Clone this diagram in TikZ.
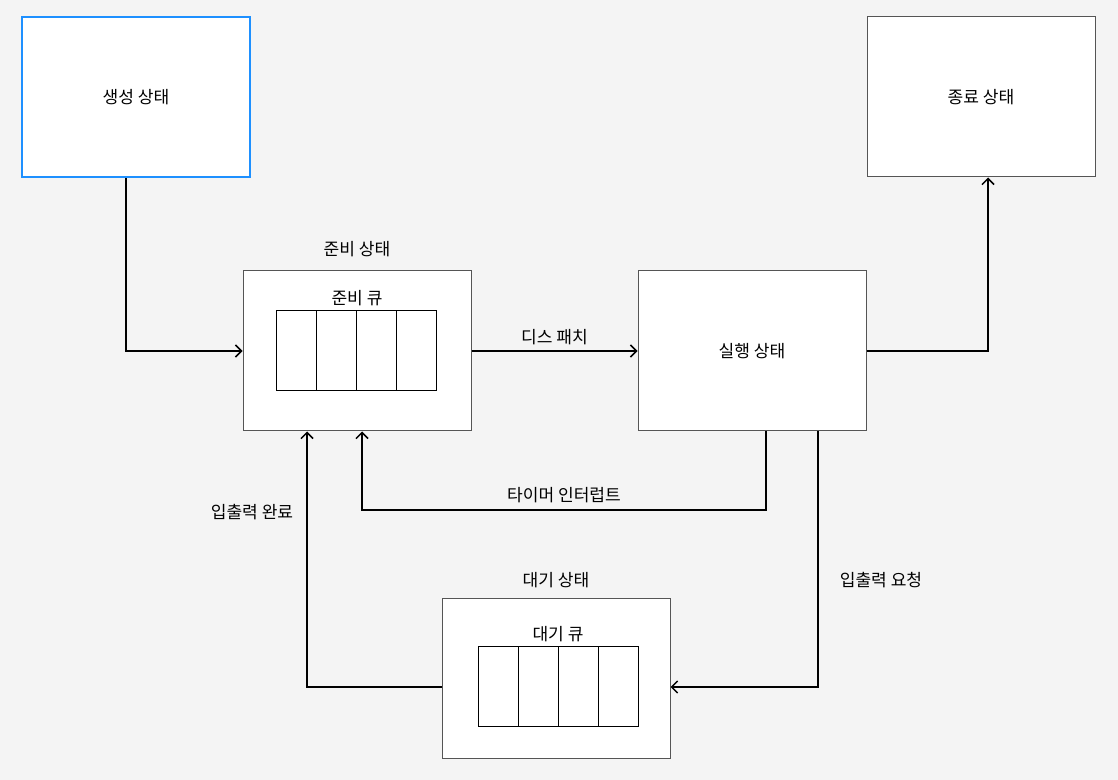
\documentclass[tikz,border=0pt]{standalone}
\usepackage{fontspec}
\newfontfamily\kr{Noto Sans CJK KR}
\usetikzlibrary{arrows.meta}
\definecolor{bg}{HTML}{F4F4F4}
\definecolor{blueb}{HTML}{1E90FF}
\definecolor{grayb}{HTML}{555555}
\tikzset{
  statebox/.style={draw=grayb, fill=white, line width=0.75pt, minimum width=171pt, minimum height=120pt, inner sep=0pt, font=\kr\fontsize{12.8}{15}\selectfont},
  cell/.style={draw=black, fill=white, line width=0.75pt, minimum width=30pt, minimum height=60pt, inner sep=0pt},
  lbl/.style={font=\kr\fontsize{12.8}{15}\selectfont, inner sep=1pt},
  conn/.style={draw=black, line width=1.1pt, -{Straight Barb[length=4.5pt,width=9pt,line width=1.1pt]}},
}
\begin{document}
\begin{tikzpicture}[x=0.75pt,y=-0.75pt]
\fill[bg] (0,0) rectangle (1118,780);
\useasboundingbox (0,0) rectangle (1118,780);
% boxes
\node[statebox, draw=blueb, line width=1.6pt] (create) at (136,97) {생성 상태};
\node[statebox] (term) at (981,97) {종료 상태};
\node[statebox] (ready) at (357,351) {};
\node[statebox] (run) at (752,351) {실행 상태};
\node[statebox] (wait) at (556,678.5) {};
% titles
\node[lbl] (readyt) at (357,249) {준비 상태};
\node[lbl] (waitt) at (556,580) {대기 상태};
\node[lbl] (readyq) at (357,298) {준비 큐};
\node[lbl] (waitq) at (558,634) {대기 큐};
% queue cells
\foreach \i in {0,1,2,3} {
  \node[cell] (rc\i) at (296+40*\i,351) {};
}
\foreach \i in {0,1,2,3} {
  \node[cell] (wc\i) at (498+40*\i,686.5) {};
}
% connectors
\coordinate (c1) at (126,351);
\draw[conn] (create.south -| c1) -- (c1) -- (ready.west);
\draw[conn] (ready.east) -- node[lbl, above=3pt] (disp) {디스 패치} (run.west);
\coordinate (c2) at (988,351);
\draw[conn] (run.east) -- (c2) -- (c2 |- term.south);
\coordinate (c3a) at (766,510);
\coordinate (c3b) at (362,510);
\draw[conn] (c3a |- run.south) -- (c3a) -- node[lbl, above=4pt] (timer) {타이머 인터럽트} (c3b) -- (c3b |- ready.south);
\coordinate (c4) at (818,687);
\draw[conn] (c4 |- run.south) -- (c4) -- (c4 -| wait.east);
\node[lbl] (ioreq) at (881,580) {입출력 요청};
\coordinate (c5) at (307,687);
\draw[conn] (c5 -| wait.west) -- (c5) -- (c5 |- ready.south);
\node[lbl] (iodone) at (252,512) {입출력 완료};
\end{tikzpicture}
\end{document}
